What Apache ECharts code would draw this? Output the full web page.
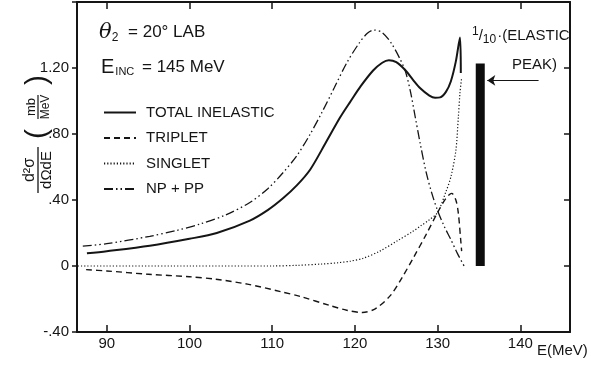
<!DOCTYPE html>
<html>
<head>
<meta charset="utf-8">
<script src="https://cdn.jsdelivr.net/npm/echarts@6/dist/echarts.min.js"></script>
<style>
  html, body { margin: 0; padding: 0; background: #fff; }
  #chart { width: 591px; height: 368px; }
</style>
</head>
<body>
<div id="chart"></div>
<script>
// [E (MeV), d2sigma/dOmega dE (mb/MeV)]
const totalInelastic = [
  [87.6, 0.077], [90, 0.09], [95.2, 0.123], [100, 0.165], [103.3, 0.20], [107.3, 0.275],
  [109.5, 0.34], [111.3, 0.41], [113, 0.49], [114.6, 0.585], [116.5, 0.75], [118.2, 0.90],
  [119.5, 1.0], [120.7, 1.09], [122.2, 1.185], [123.3, 1.232], [124.1, 1.247], [125, 1.235],
  [126.1, 1.186], [127, 1.13], [127.9, 1.077], [129, 1.033], [129.7, 1.02], [130.3, 1.022],
  [131, 1.055], [131.6, 1.12], [132.2, 1.24], [132.7, 1.385], [132.8, 1.17]
];
const triplet = [
  [87.5, -0.022], [90, -0.03], [95, -0.05], [100, -0.065], [103.2, -0.08], [107, -0.11],
  [111, -0.155], [113.4, -0.185], [117, -0.24], [119, -0.268], [120.9, -0.282], [122.5, -0.258],
  [124.3, -0.178], [125.7, -0.07], [127.1, 0.053], [128.6, 0.19], [130, 0.325], [131, 0.41],
  [131.7, 0.44], [132.2, 0.40], [132.5, 0.32], [132.8, 0.15], [132.9, 0.09]
];
const singlet = [
  [86.5, 0], [100, 0], [110, 0], [113, 0.004], [116, 0.012], [118, 0.02], [119.5, 0.03],
  [121, 0.047], [123, 0.09], [125.2, 0.155], [127, 0.21], [128, 0.245], [129, 0.28],
  [130, 0.325], [131, 0.45], [131.6, 0.54], [132.2, 0.70], [132.5, 0.90], [132.7, 1.05],
  [132.9, 1.14]
];
const npPlusPp = [
  [87.1, 0.12], [90, 0.135], [95.2, 0.18], [98.4, 0.215], [101.3, 0.255], [104.4, 0.31],
  [107.3, 0.385], [109.5, 0.47], [111.3, 0.565], [113, 0.67], [114.6, 0.80], [116, 0.93],
  [117.5, 1.08], [119, 1.23], [120.5, 1.35], [121.5, 1.41], [122.3, 1.43], [123.3, 1.415],
  [124.4, 1.35], [125.5, 1.25], [126.1, 1.18], [126.7, 1.06], [127.3, 0.90], [127.9, 0.74],
  [128.6, 0.57], [129.3, 0.44], [130, 0.335], [130.8, 0.24], [131.6, 0.16], [132.4, 0.075],
  [133.2, 0.0]
];
// elastic peak (scaled 1/10) and the arrow pointing at it
const elasticPeak = [[135.15, 1.228]];
const arrowFrom = [142.2, 1.125];
const arrowTo = [136.0, 1.125];

const seriesNames = ['TOTAL INELASTIC', 'TRIPLET', 'SINGLET', 'NP + PP'];
const xTicks = [90, 100, 110, 120, 130, 140];

const FONT = 'Liberation Sans';
const INK = '#151515';

const chart = echarts.init(document.getElementById('chart'), null, { renderer: 'canvas' });

function yLabel(v) {
  const r = Math.round(v * 100) / 100;
  if (r === 0) return '0';
  if (r > 1.5) return '';
  if (r >= 1) return r.toFixed(2);
  const s = Math.abs(r).toFixed(2).replace(/^0/, '');
  return (r < 0 ? '-' : '') + s;
}

const frame = { onZero: false, lineStyle: { color: INK, width: 2 } };

const option = {
  backgroundColor: '#fff',
  animation: false,
  grid: { left: 77, top: 2, right: 21, bottom: 36 },
  legend: {
    data: seriesNames,
    orient: 'vertical',
    left: 98,
    top: 100,
    itemWidth: 32,
    itemHeight: 14,
    itemGap: 10.5,
    itemStyle: { opacity: 0 },
    textStyle: { fontFamily: FONT, fontSize: 15, color: INK, padding: [0, 0, 0, 5] }
  },
  xAxis: [{
    type: 'value',
    min: 86.4,
    max: 146,
    position: 'bottom',
    axisLine: frame,
    axisTick: { inside: true, length: 7, lineStyle: { color: INK, width: 1.5 }, customValues: xTicks },
    axisLabel: { customValues: xTicks, fontFamily: FONT, fontSize: 15, color: INK, margin: 4 },
    splitLine: { show: false }
  }, {
    type: 'value',
    min: 86.4,
    max: 146,
    position: 'top',
    axisLine: frame,
    axisTick: { inside: true, length: 7, lineStyle: { color: INK, width: 1.5 }, customValues: xTicks },
    axisLabel: { show: false },
    splitLine: { show: false }
  }],
  yAxis: [{
    type: 'value',
    min: -0.4,
    max: 1.6,
    interval: 0.4,
    position: 'left',
    axisLine: Object.assign({ show: true }, frame),
    axisTick: { show: true, length: 5, lineStyle: { color: INK, width: 1.5 } },
    axisLabel: { formatter: yLabel, fontFamily: FONT, fontSize: 15, color: INK, margin: 8 },
    splitLine: { show: false }
  }, {
    type: 'value',
    min: -0.4,
    max: 1.6,
    interval: 0.4,
    position: 'right',
    axisLine: Object.assign({ show: true }, frame),
    axisTick: { show: true, inside: true, length: 6, lineStyle: { color: INK, width: 1.5 } },
    axisLabel: { show: false },
    splitLine: { show: false }
  }],
  series: [{
    name: 'TOTAL INELASTIC',
    type: 'line',
    symbol: 'none',
    smooth: 0.3,
    lineStyle: { color: INK, width: 2 },
    itemStyle: { color: INK },
    data: totalInelastic
  }, {
    name: 'TRIPLET',
    type: 'line',
    symbol: 'none',
    smooth: 0.3,
    lineStyle: { color: INK, width: 1.4, type: [6, 4] },
    itemStyle: { color: INK },
    data: triplet
  }, {
    name: 'SINGLET',
    type: 'line',
    symbol: 'none',
    smooth: 0.3,
    lineStyle: { color: INK, width: 1.2, type: [1.2, 2] },
    itemStyle: { color: INK },
    data: singlet
  }, {
    name: 'NP + PP',
    type: 'line',
    symbol: 'none',
    smooth: 0.3,
    lineStyle: { color: INK, width: 1.3, type: [9, 3, 1.5, 3, 1.5, 3] },
    itemStyle: { color: INK },
    data: npPlusPp
  }, {
    name: 'elastic',
    type: 'bar',
    barWidth: 9,
    itemStyle: { color: '#0d0d0d' },
    data: elasticPeak,
    markLine: {
      silent: true,
      symbol: ['none', 'arrow'],
      symbolSize: 8,
      label: { show: false },
      lineStyle: { color: INK, width: 1, type: 'solid' },
      data: [[{ coord: arrowFrom }, { coord: arrowTo }]]
    }
  }],
  graphic: [
    {
      type: 'text', left: 99, top: 22,
      style: {
        text: '{th|θ}{sub|2} = 20° LAB',
        fontFamily: FONT, fontSize: 17, fill: INK,
        rich: {
          th: { fontFamily: 'DejaVu Serif', fontStyle: 'italic', fontSize: 21, fill: INK },
          sub: { fontFamily: FONT, fontSize: 12, fill: INK, padding: [10, 5, 0, 0] }
        }
      }
    },
    {
      type: 'text', left: 101, top: 57,
      style: {
        text: '{e|E}{sub|INC} = 145 MeV',
        fontFamily: FONT, fontSize: 17, fill: INK,
        rich: {
          e: { fontFamily: FONT, fontSize: 20, fill: INK },
          sub: { fontFamily: FONT, fontSize: 11, fill: INK, padding: [10, 3, 0, 1] }
        }
      }
    },
    {
      type: 'text', left: 472, top: 26,
      style: {
        text: '{n|1}{s|/}{d|10}·(ELASTIC',
        fontFamily: FONT, fontSize: 15, fill: INK,
        rich: {
          n: { fontFamily: FONT, fontSize: 12, fill: INK, padding: [0, 0, 8, 0] },
          s: { fontFamily: FONT, fontSize: 15, fill: INK },
          d: { fontFamily: FONT, fontSize: 12, fill: INK, padding: [8, 1, 0, 0] }
        }
      }
    },
    {
      type: 'text', left: 512, top: 57,
      style: { text: 'PEAK)', fontFamily: FONT, fontSize: 15, fill: INK }
    },
    {
      type: 'text', left: 537, top: 343,
      style: { text: 'E(MeV)', fontFamily: FONT, fontSize: 15, fill: INK }
    },
    {
      // rotated y-axis title: d2sigma / dOmega dE  (mb / MeV)
      type: 'group', x: 38, y: 140, rotation: Math.PI / 2,
      children: [
        { type: 'text', x: -30, y: -8, style: { text: 'd²σ', fontFamily: FONT, fontSize: 16, fill: INK, align: 'center', verticalAlign: 'middle' } },
        { type: 'line', shape: { x1: -53, y1: 0, x2: -7, y2: 0 }, style: { stroke: INK, lineWidth: 1.3 } },
        { type: 'text', x: -30, y: 9, style: { text: 'dΩdE', fontFamily: FONT, fontSize: 15, fill: INK, align: 'center', verticalAlign: 'middle' } },
        { type: 'text', x: 6, y: 0, style: { text: '(', fontFamily: FONT, fontSize: 30, fill: INK, align: 'center', verticalAlign: 'middle' } },
        { type: 'text', x: 33, y: -7, style: { text: 'mb', fontFamily: FONT, fontSize: 13, fill: INK, align: 'center', verticalAlign: 'middle' } },
        { type: 'line', shape: { x1: 21, y1: 0, x2: 45, y2: 0 }, style: { stroke: INK, lineWidth: 1.2 } },
        { type: 'text', x: 33, y: 8, style: { text: 'MeV', fontFamily: FONT, fontSize: 12, fill: INK, align: 'center', verticalAlign: 'middle' } },
        { type: 'text', x: 60, y: 0, style: { text: ')', fontFamily: FONT, fontSize: 30, fill: INK, align: 'center', verticalAlign: 'middle' } }
      ]
    }
  ]
};

chart.setOption(option);
</script>
</body>
</html>
